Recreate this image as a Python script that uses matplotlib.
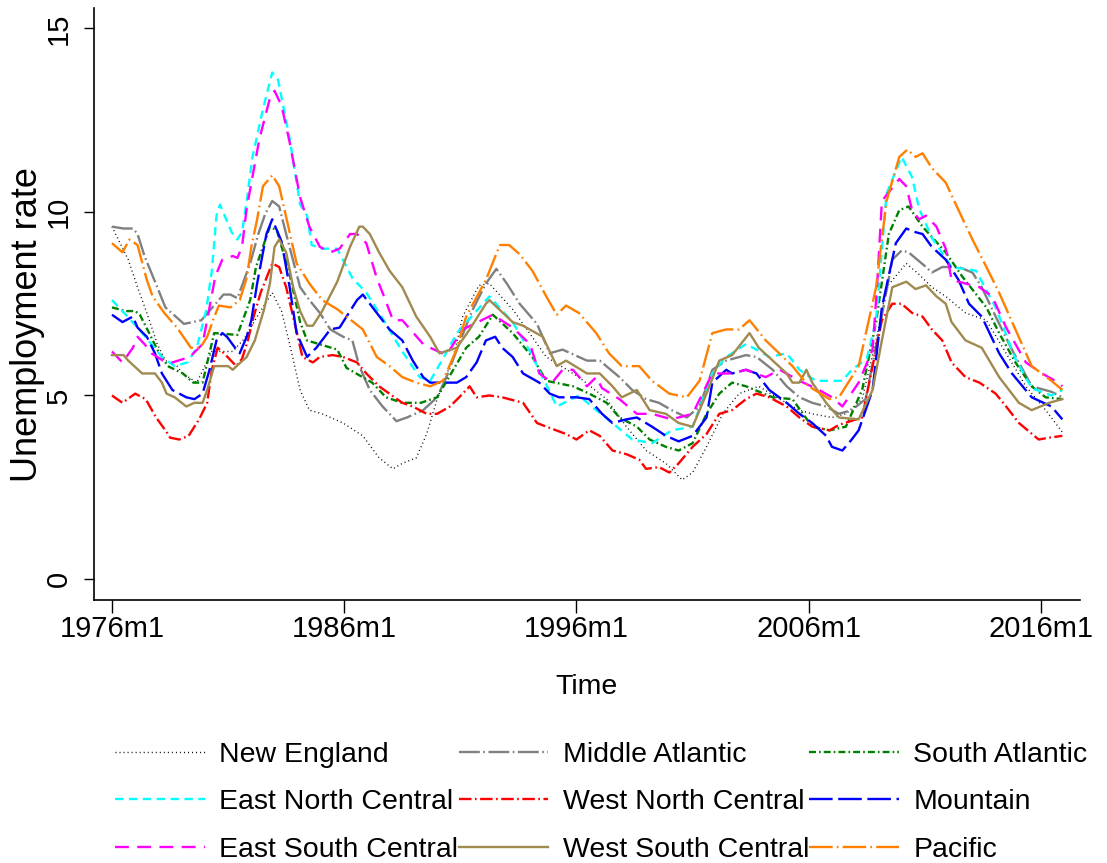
import numpy as np
import matplotlib
matplotlib.use("Agg")
import matplotlib.pyplot as plt

plt.rcParams['font.family'] = ['Liberation Sans', 'DejaVu Sans']
plt.rcParams['lines.scale_dashes'] = False

# (decimal year, unemployment rate) for each census division
new_england = [(1976.0, 9.6), (1976.35, 9.15), (1976.7, 8.7), (1977.1, 7.95), (1977.5, 7.25), (1977.95, 6.4),
               (1978.3, 5.95), (1978.8, 5.8), (1979.05, 5.6), (1979.65, 5.35), (1980.3, 6.2), (1981.2, 6.2),
               (1981.7, 6.55), (1982.25, 7.15), (1982.9, 7.8), (1983.3, 7.3), (1983.65, 6.4), (1984.1, 5.15),
               (1984.5, 4.6), (1985.05, 4.5), (1985.95, 4.25), (1986.8, 3.9), (1987.5, 3.3), (1988.1, 3.0),
               (1988.5, 3.15), (1989.1, 3.3), (1989.55, 3.95), (1990.0, 4.9), (1990.7, 6.05), (1991.1, 7.15),
               (1991.8, 8.0), (1992.25, 8.05), (1993.25, 7.35), (1994.7, 6.05), (1996.1, 5.5), (1997.3, 4.9),
               (1998.15, 4.15), (1999.0, 3.5), (1999.85, 3.15), (2000.55, 2.7), (2001.0, 2.9), (2001.6, 3.6),
               (2002.3, 4.5), (2003.0, 5.05), (2003.85, 5.25), (2004.75, 4.9), (2005.6, 4.6), (2006.15, 4.5),
               (2007.0, 4.4), (2007.6, 4.5), (2008.3, 4.9), (2008.9, 6.5), (2009.35, 7.95), (2010.2, 8.6),
               (2010.75, 8.3), (2011.3, 7.95), (2011.9, 7.7), (2012.75, 7.25), (2013.65, 7.05), (2014.5, 6.15),
               (2015.35, 5.25), (2016.2, 4.6), (2016.92, 4.0)]

middle_atlantic = [(1976.0, 9.6), (1976.5, 9.55), (1976.9, 9.55), (1977.1, 9.4), (1977.4, 8.8), (1977.95, 7.95),
                   (1978.3, 7.4), (1979.1, 6.95), (1979.85, 7.05), (1980.8, 7.75), (1981.1, 7.75), (1981.4, 7.65),
                   (1981.95, 8.6), (1982.3, 9.4), (1982.6, 9.95), (1982.9, 10.3), (1983.2, 10.15), (1983.5, 9.4),
                   (1984.1, 7.95), (1984.5, 7.6), (1984.95, 7.25), (1985.4, 6.8), (1985.95, 6.6), (1986.35, 6.5),
                   (1986.65, 5.8), (1987.1, 5.15), (1987.65, 4.7), (1988.25, 4.3), (1988.7, 4.4), (1989.4, 4.6),
                   (1990.0, 4.95), (1990.4, 5.5), (1990.85, 6.25), (1991.5, 7.3), (1992.1, 8.05), (1992.55, 8.45),
                   (1993.0, 8.05), (1993.55, 7.5), (1994.3, 6.95), (1994.85, 6.15), (1995.4, 6.25), (1996.45, 5.95),
                   (1997.0, 5.95), (1997.85, 5.5), (1998.4, 5.15), (1999.0, 4.9), (1999.55, 4.8), (2000.1, 4.6),
                   (2000.75, 4.4), (2001.3, 4.7), (2001.85, 5.7), (2002.45, 5.95), (2003.3, 6.1), (2003.75, 6.05),
                   (2004.45, 5.7), (2005.05, 5.25), (2005.6, 4.95), (2006.15, 4.8), (2006.75, 4.7), (2007.3, 4.5),
                   (2007.85, 4.6), (2008.45, 4.9), (2008.95, 6.5), (2009.6, 8.7), (2010.0, 8.95), (2010.3, 8.9),
                   (2011.05, 8.5), (2011.3, 8.35), (2011.75, 8.5), (2012.45, 8.5), (2013.05, 8.35), (2013.45, 7.95),
                   (2014.05, 7.15), (2014.75, 6.25), (2015.6, 5.25), (2016.45, 5.1), (2016.92, 4.95)]

south_atlantic = [(1976.0, 7.4), (1976.6, 7.3), (1977.0, 7.3), (1977.2, 7.2), (1977.6, 6.7), (1977.95, 6.25),
                  (1978.4, 5.8), (1979.05, 5.6), (1979.5, 5.35), (1979.9, 5.35), (1980.4, 6.7), (1981.4, 6.65),
                  (1981.95, 7.6), (1982.2, 8.5), (1982.8, 9.6), (1983.1, 9.5), (1983.65, 8.3), (1984.1, 7.0),
                  (1984.4, 6.5), (1985.7, 6.25), (1986.1, 5.75), (1987.2, 5.35), (1987.8, 4.95), (1988.5, 4.8),
                  (1989.3, 4.8), (1990.0, 4.95), (1991.25, 6.3), (1991.8, 6.6), (1992.4, 7.2), (1993.25, 6.7),
                  (1994.1, 6.05), (1994.7, 5.4), (1995.85, 5.25), (1996.55, 5.05), (1997.3, 4.8), (1997.85, 4.4),
                  (1998.6, 4.15), (1999.15, 3.8), (1999.85, 3.6), (2000.4, 3.5), (2001.0, 3.7), (2001.6, 4.5),
                  (2002.15, 5.05), (2002.7, 5.35), (2003.3, 5.25), (2004.45, 4.95), (2005.3, 4.9), (2006.15, 4.15),
                  (2006.9, 4.05), (2007.6, 4.15), (2008.3, 5.15), (2008.9, 7.0), (2009.45, 9.4), (2009.9, 10.05),
                  (2010.3, 10.15), (2010.9, 9.6), (2011.9, 8.9), (2012.6, 8.25), (2013.65, 7.4), (2014.2, 6.7),
                  (2014.9, 5.9), (2015.6, 5.25), (2016.2, 4.95), (2016.92, 4.9)]

east_north_central = [(1976.0, 7.6), (1976.45, 7.3), (1977.1, 6.85), (1977.7, 6.4), (1978.15, 6.05), (1978.7, 5.8),
                      (1979.25, 5.9), (1979.65, 6.3), (1980.05, 7.3), (1980.3, 8.4), (1980.5, 9.9), (1980.65, 10.2),
                      (1981.15, 9.45), (1981.4, 9.25), (1981.6, 9.45), (1981.8, 10.3), (1982.05, 11.5),
                      (1982.5, 12.8), (1982.9, 13.8), (1983.15, 13.6), (1983.65, 12.0), (1984.1, 10.2), (1984.4, 9.9),
                      (1984.6, 9.1), (1985.05, 9.0), (1985.7, 9.0), (1986.35, 8.2), (1986.95, 7.8), (1987.65, 7.1),
                      (1988.5, 6.2), (1989.25, 5.5), (1989.7, 5.4), (1990.25, 6.0), (1990.85, 6.7), (1992.25, 7.7),
                      (1993.25, 7.0), (1994.0, 6.2), (1994.85, 5.1), (1995.15, 4.7), (1996.1, 5.0), (1996.85, 4.6),
                      (1997.55, 4.25), (1998.4, 3.8), (1999.25, 3.7), (2000.1, 4.05), (2001.0, 4.15), (2001.85, 5.6),
                      (2002.45, 6.05), (2003.3, 6.4), (2003.75, 6.25), (2004.3, 6.05), (2005.05, 6.15), (2005.6, 5.7),
                      (2006.3, 5.4), (2007.45, 5.4), (2007.85, 5.7), (2008.5, 6.0), (2008.9, 7.05), (2009.35, 10.5),
                      (2010.0, 11.5), (2010.45, 10.95), (2010.75, 10.1), (2011.3, 9.3), (2012.15, 8.5),
                      (2013.2, 8.4), (2014.05, 7.4), (2014.9, 6.0), (2015.6, 5.2), (2016.45, 5.0), (2016.92, 5.15)]

west_north_central = [(1976.0, 5.0), (1976.45, 4.8), (1977.0, 5.05), (1977.45, 4.9), (1977.9, 4.4), (1978.3, 4.05),
                      (1978.5, 3.85), (1978.9, 3.8), (1979.3, 3.9), (1979.75, 4.35), (1980.1, 4.8), (1980.3, 5.7),
                      (1980.55, 6.3), (1980.9, 6.1), (1981.35, 5.8), (1981.6, 6.0), (1981.85, 6.5), (1982.1, 7.15),
                      (1982.4, 7.8), (1982.9, 8.6), (1983.2, 8.5), (1983.5, 7.95), (1983.8, 7.15), (1984.2, 6.05),
                      (1984.65, 5.9), (1984.95, 6.05), (1985.5, 6.1), (1985.95, 6.05), (1986.55, 5.9), (1986.95, 5.6),
                      (1987.5, 5.25), (1988.5, 4.8), (1988.95, 4.7), (1989.55, 4.5), (1990.0, 4.5), (1990.55, 4.7),
                      (1990.95, 4.95), (1991.4, 5.25), (1991.7, 4.95), (1992.25, 5.0), (1992.8, 4.95), (1993.7, 4.8),
                      (1994.3, 4.25), (1994.7, 4.15), (1995.55, 3.95), (1996.0, 3.8), (1996.55, 4.05), (1997.0, 3.9),
                      (1997.55, 3.5), (1998.15, 3.4), (1998.7, 3.25), (1999.0, 3.0), (1999.55, 3.05), (2000.0, 2.9),
                      (2000.4, 3.15), (2001.0, 3.6), (2001.6, 3.95), (2002.15, 4.5), (2002.7, 4.6), (2003.3, 4.9),
                      (2003.75, 5.05), (2004.3, 4.95), (2005.05, 4.7), (2005.6, 4.4), (2006.15, 4.15), (2006.9, 4.05),
                      (2007.3, 4.2), (2008.3, 4.4), (2008.75, 5.8), (2009.15, 7.05), (2009.6, 7.5), (2010.0, 7.5),
                      (2010.45, 7.25), (2010.9, 7.15), (2011.3, 6.8), (2011.75, 6.5), (2012.15, 5.9), (2012.75, 5.5),
                      (2013.35, 5.35), (2014.05, 5.05), (2014.5, 4.7), (2015.05, 4.25), (2015.9, 3.8),
                      (2016.35, 3.85), (2016.92, 3.9)]

mountain = [(1976.0, 7.2), (1976.45, 7.0), (1976.9, 7.15), (1977.1, 6.85), (1977.5, 6.6), (1977.85, 6.15),
            (1978.15, 5.6), (1978.6, 5.15), (1979.2, 4.95), (1979.55, 4.9), (1979.9, 5.05), (1980.2, 5.7),
            (1980.5, 6.5), (1980.75, 6.7), (1980.95, 6.6), (1981.3, 6.3), (1981.5, 6.15), (1981.8, 6.6),
            (1982.0, 7.05), (1982.25, 8.05), (1982.65, 9.4), (1982.9, 9.8), (1983.3, 9.2), (1983.65, 7.95),
            (1983.95, 6.7), (1984.4, 6.05), (1984.8, 6.3), (1985.4, 6.8), (1985.8, 6.85), (1986.55, 7.6),
            (1986.8, 7.75), (1987.4, 7.25), (1987.95, 6.8), (1988.5, 6.5), (1988.95, 5.95), (1989.4, 5.5),
            (1989.7, 5.35), (1990.25, 5.35), (1990.85, 5.35), (1991.25, 5.5), (1991.7, 5.9), (1992.1, 6.5),
            (1992.5, 6.6), (1992.8, 6.3), (1993.25, 6.05), (1993.7, 5.6), (1994.4, 5.35), (1994.85, 5.05),
            (1995.25, 4.95), (1996.0, 4.95), (1996.55, 4.9), (1997.1, 4.5), (1997.55, 4.25), (1998.15, 4.35),
            (1998.6, 4.4), (1999.25, 4.15), (1999.85, 3.9), (2000.4, 3.75), (2001.0, 3.9), (2001.6, 4.4),
            (2001.85, 5.35), (2002.45, 5.7), (2002.7, 5.6), (2003.3, 5.7), (2003.75, 5.6), (2004.3, 5.15),
            (2005.05, 4.8), (2005.6, 4.5), (2006.15, 4.25), (2006.75, 3.9), (2007.0, 3.6), (2007.45, 3.5),
            (2007.85, 3.8), (2008.15, 4.05), (2008.75, 5.15), (2009.15, 7.4), (2009.75, 9.15), (2010.2, 9.55),
            (2010.6, 9.45), (2010.9, 9.4), (2011.3, 9.05), (2011.9, 8.7), (2012.45, 8.15), (2012.9, 7.5),
            (2013.45, 7.15), (2014.2, 6.15), (2014.75, 5.6), (2015.6, 4.95), (2016.45, 4.7), (2016.92, 4.35)]

east_south_central = [(1976.0, 6.2), (1976.45, 5.9), (1976.9, 6.3), (1977.1, 6.6), (1977.4, 6.4), (1977.7, 6.15),
                      (1978.2, 5.95), (1978.6, 5.9), (1979.35, 6.05), (1979.9, 6.4), (1980.2, 7.4), (1980.45, 8.25),
                      (1980.75, 8.7), (1981.2, 8.8), (1981.4, 8.75), (1981.6, 9.05), (1981.8, 10.1), (1982.35, 12.0),
                      (1982.8, 13.1), (1983.0, 13.3), (1983.3, 12.9), (1983.65, 11.9), (1984.1, 10.4), (1984.5, 9.6),
                      (1984.95, 9.05), (1985.4, 8.9), (1985.8, 9.0), (1986.25, 9.4), (1986.55, 9.4), (1986.95, 9.15),
                      (1987.4, 8.2), (1987.65, 7.8), (1988.1, 7.05), (1988.5, 7.05), (1989.4, 6.4), (1989.7, 6.3),
                      (1990.4, 6.1), (1991.1, 6.8), (1992.4, 7.2), (1993.25, 6.85), (1994.0, 6.4), (1994.4, 5.6),
                      (1994.95, 5.35), (1995.4, 5.7), (1995.85, 5.7), (1996.45, 5.25), (1996.85, 5.5), (1997.1, 5.2),
                      (1997.85, 4.9), (1998.6, 4.5), (1999.25, 4.5), (2000.1, 4.35), (2001.0, 4.5), (2001.85, 5.6),
                      (2002.7, 5.6), (2003.3, 5.7), (2004.15, 5.5), (2004.75, 5.7), (2005.6, 5.4), (2006.45, 5.15),
                      (2007.0, 4.95), (2007.45, 4.7), (2008.15, 5.35), (2008.75, 6.25), (2008.95, 8.05),
                      (2009.15, 10.3), (2009.9, 10.9), (2010.2, 10.7), (2010.45, 10.05), (2010.75, 9.8),
                      (2011.05, 9.9), (2011.5, 9.6), (2011.9, 9.0), (2012.15, 8.15), (2012.75, 8.05), (2013.35, 7.95),
                      (2013.9, 7.7), (2014.5, 6.85), (2015.35, 5.9), (2016.05, 5.6), (2016.75, 5.35), (2016.92, 5.25)]

west_south_central = [(1976.0, 6.1), (1976.5, 6.1), (1976.7, 5.95), (1977.3, 5.6), (1977.85, 5.6), (1978.15, 5.35),
                      (1978.35, 5.05), (1978.7, 4.95), (1979.2, 4.7), (1979.55, 4.8), (1979.9, 4.8), (1980.1, 5.15),
                      (1980.4, 5.8), (1981.0, 5.8), (1981.2, 5.7), (1981.45, 5.85), (1981.8, 6.05), (1982.15, 6.5),
                      (1982.55, 7.35), (1982.8, 8.05), (1983.0, 9.05), (1983.2, 9.25), (1983.5, 8.9), (1983.8, 7.95),
                      (1984.1, 7.3), (1984.4, 6.9), (1984.65, 6.9), (1985.05, 7.3), (1985.7, 8.1), (1986.25, 9.05),
                      (1986.65, 9.6), (1986.8, 9.6), (1987.1, 9.4), (1987.5, 8.9), (1987.95, 8.4), (1988.5, 7.95),
                      (1989.1, 7.15), (1989.7, 6.6), (1990.1, 6.15), (1990.85, 6.3), (1991.4, 6.8), (1992.1, 7.5),
                      (1992.25, 7.6), (1993.25, 7.0), (1993.7, 6.9), (1994.55, 6.6), (1995.15, 5.8), (1995.55, 5.95),
                      (1996.45, 5.6), (1997.0, 5.6), (1997.55, 5.25), (1997.95, 4.95), (1998.6, 5.15), (1999.15, 4.6),
                      (1999.85, 4.5), (2000.4, 4.25), (2001.0, 4.15), (2001.6, 5.05), (2002.15, 5.95), (2002.7, 6.1),
                      (2003.45, 6.7), (2003.85, 6.3), (2004.45, 5.95), (2005.05, 5.6), (2005.3, 5.35), (2005.6, 5.35),
                      (2005.9, 5.7), (2006.15, 5.35), (2006.75, 4.8), (2007.3, 4.4), (2008.15, 4.35), (2008.75, 5.15),
                      (2009.15, 6.5), (2009.6, 7.95), (2010.2, 8.1), (2010.6, 7.9), (2011.05, 8.0), (2011.5, 7.7),
                      (2011.9, 7.5), (2012.15, 7.0), (2012.75, 6.5), (2013.45, 6.3), (2014.2, 5.5), (2015.05, 4.8),
                      (2015.6, 4.6), (2016.35, 4.8), (2016.92, 4.9)]

pacific = [(1976.0, 9.15), (1976.45, 8.9), (1976.75, 9.25), (1977.1, 9.1), (1977.5, 8.15), (1977.75, 7.7),
           (1978.25, 7.25), (1978.8, 6.85), (1979.4, 6.3), (1979.8, 6.3), (1980.1, 6.6), (1980.35, 7.05),
           (1980.6, 7.45), (1981.1, 7.4), (1981.5, 7.6), (1981.8, 8.2), (1982.0, 9.05), (1982.25, 9.8),
           (1982.5, 10.7), (1982.9, 11.0), (1983.2, 10.7), (1983.95, 8.6), (1984.5, 8.05), (1985.05, 7.6),
           (1985.7, 7.35), (1986.1, 7.15), (1986.8, 6.8), (1987.4, 6.05), (1987.95, 5.8), (1988.5, 5.5),
           (1989.1, 5.35), (1989.7, 5.25), (1990.25, 5.4), (1990.8, 6.2), (1991.25, 7.15), (1992.1, 8.15),
           (1992.7, 9.1), (1993.1, 9.1), (1993.55, 8.85), (1994.1, 8.4), (1994.7, 7.7), (1995.15, 7.2),
           (1995.55, 7.45), (1996.1, 7.25), (1996.85, 6.7), (1997.4, 6.15), (1997.95, 5.8), (1998.7, 5.8),
           (1999.25, 5.4), (2000.0, 5.05), (2000.75, 4.95), (2001.3, 5.4), (2001.85, 6.7), (2002.45, 6.8),
           (2003.0, 6.8), (2003.45, 7.05), (2004.15, 6.5), (2005.3, 5.8), (2006.0, 5.25), (2006.9, 4.9),
           (2007.3, 4.95), (2007.85, 5.5), (2008.15, 5.8), (2008.9, 7.95), (2009.35, 10.3), (2009.9, 11.5),
           (2010.25, 11.7), (2010.6, 11.5), (2010.9, 11.6), (2011.3, 11.2), (2011.9, 10.8), (2012.45, 10.05),
           (2013.05, 9.25), (2013.65, 8.5), (2014.2, 7.8), (2014.9, 6.8), (2015.6, 5.8), (2016.45, 5.4),
           (2016.92, 5.15)]

labels = ["New England", "Middle Atlantic", "South Atlantic", "East North Central", "West North Central",
          "Mountain", "East South Central", "West South Central", "Pacific"]
tick_years = [1976, 1986, 1996, 2006, 2016]
tick_labels = ["1976m1", "1986m1", "1996m1", "2006m1", "2016m1"]

series = [new_england, middle_atlantic, south_atlantic, east_north_central, west_north_central,
          mountain, east_south_central, west_south_central, pacific]
colors = ["black", "#808080", "#008000", "#00FFFF", "#FF0000", "#0000FF", "#FF00FF", "#A08A50", "#FF8000"]
styles = [(0, (0.7, 2.2)), (0, (15, 2.5, 1.2, 2.5)), (0, (5, 2.2, 1.2, 2.2)), (0, (6, 4)),
          (0, (9, 2.5, 1.2, 2.5)), (0, (17, 4)), (0, (10, 6)), "-", (0, (17, 3, 1.2, 3))]
widths = [1.0, 1.7, 1.7, 1.7, 1.7, 1.7, 1.7, 1.7, 1.7]

fig = plt.figure(figsize=(11.07, 8.63), dpi=100)
ax = fig.add_axes([0.0849, 0.3048, 0.8907, 0.686])

handles = []
for data, lab, c, ls, lw in zip(series, labels, colors, styles, widths):
    arr = np.array(data)
    h, = ax.plot(arr[:, 0], arr[:, 1], color=c, linestyle=ls, linewidth=lw, label=lab)
    handles.append(h)

ax.set_xlim(1975.225, 2017.68)
ax.set_ylim(-0.572, 15.56)
ax.set_xticks(tick_years)
ax.set_xticklabels(tick_labels)
ax.set_yticks([0, 5, 10, 15])
ax.set_yticklabels(["0", "5", "10", "15"], rotation=90, va="center")

for side in ["top", "right"]:
    ax.spines[side].set_visible(False)
for side in ["left", "bottom"]:
    ax.spines[side].set_linewidth(1.2)
ax.tick_params(axis="x", length=9, width=1.0, labelsize=21, pad=1.5)
ax.tick_params(axis="y", length=7.5, width=1.0, labelsize=21, pad=8)

ax.set_xlabel("Time", fontsize=20.5, labelpad=23)
ax.set_ylabel("Unemployment rate", fontsize=26)
ax.yaxis.set_label_coords(-0.0497, 0.4645)

# legend filled row by row: reorder for matplotlib's column-major layout
order = [0, 3, 6, 1, 4, 7, 2, 5, 8]
fig.legend([handles[i] for i in order], [labels[i] for i in order], ncol=3, frameon=False,
           loc="upper left", bbox_to_anchor=(0.104, 0.1405), fontsize=20.5,
           handlelength=3.15, handletextpad=0.5, columnspacing=0.02, labelspacing=0.76,
           borderpad=0, borderaxespad=0)

fig.savefig("out.png", dpi=100)
